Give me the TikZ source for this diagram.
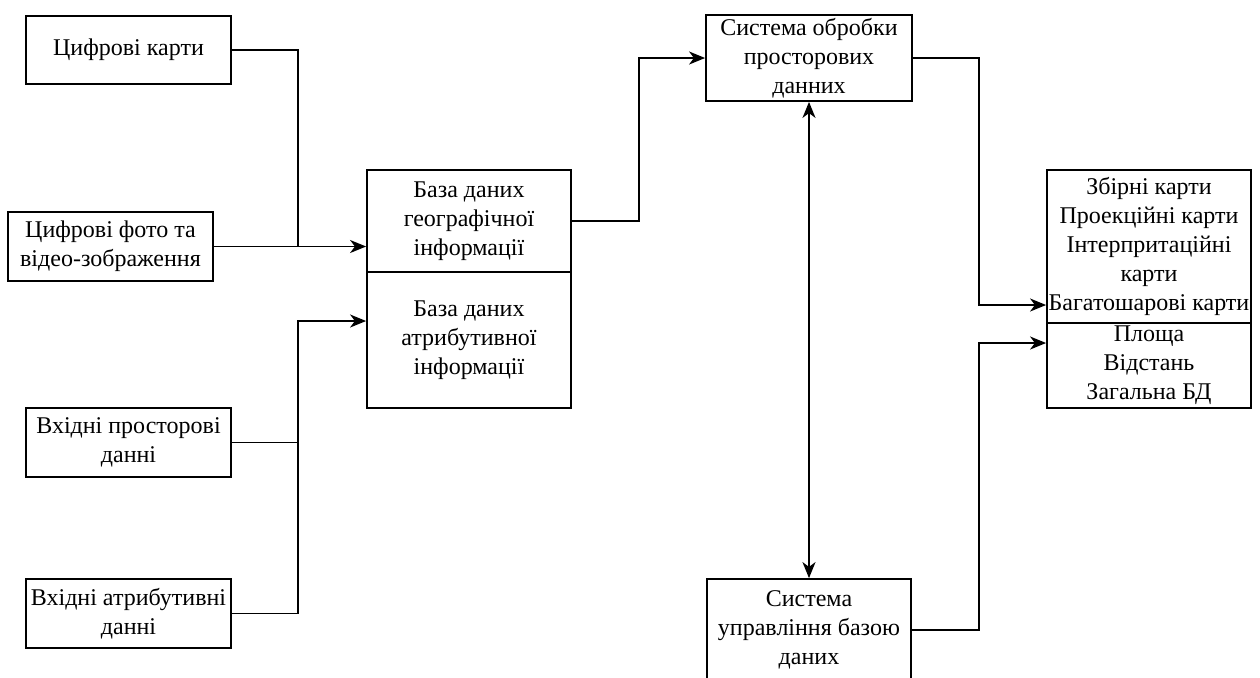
\documentclass[tikz,border=0pt]{standalone}
\usepackage{fontspec}
\setmainfont{Liberation Serif}
\usetikzlibrary{arrows.meta}

\begin{document}
\begin{tikzpicture}[x=0.5pt,y=-0.5pt,
  box/.style={draw, line width=0.9pt, rectangle, inner sep=0pt, align=center,
    font=\fontsize{12pt}{14.5pt}\selectfont},
  link/.style={line width=0.9pt},
  tip/.style={Stealth[length=8pt,width=6.5pt,inset=2.4pt]},
  arr/.style={link, -{Stealth[length=8pt,width=6.5pt,inset=2.4pt]}},
  darr/.style={link, {Stealth[length=8pt,width=6.5pt,inset=2.4pt]}-{Stealth[length=8pt,width=6.5pt,inset=2.4pt]}}]
\useasboundingbox (0,0) rectangle (1260,677);
\clip (0,0) rectangle (1260,677);

% input sources
\node[box, minimum width=102.5pt, minimum height=34pt] (maps) at (128.5,50) {Цифрові карти};
\node[box, minimum width=102.5pt, minimum height=34.5pt] (photo) at (110.5,246.5) {Цифрові фото та\\відео-зображення};
\node[box, minimum width=102.5pt, minimum height=34.5pt] (spat) at (128.5,442.5) {Вхідні просторові\\данні};
\node[box, minimum width=102.5pt, minimum height=34.5pt] (attrin) at (128.5,613.5) {Вхідні атрибутивні\\данні};

% databases
\node[box, minimum width=102pt, minimum height=51pt] (geo) at (469,221) {База даних\\географічної\\інформації};
\node[box, minimum width=102pt, minimum height=68pt] (attr) at (469,340) {База даних\\атрибутивної\\інформації};

% processing systems
\node[box, minimum width=103pt, minimum height=43pt] (proc) at (809,58) {Система обробки\\просторових\\данних};
\node[box, minimum width=102pt, minimum height=51pt] (dbms) at (809,630) {Система\\управління базою\\даних};

% outputs
\node[box, minimum width=102pt, minimum height=76.5pt] (out) at (1149,246.5) {Збірні карти\\Проекційні карти\\Інтерпритаційні\\карти\\Багатошарові карти};
\node[box, minimum width=102pt, minimum height=42.5pt] (calc) at (1149,365.5) {Площа\\Відстань\\Загальна БД};

% junction points
\coordinate (j1) at (298,246);
\coordinate (j2) at (298,321);
\coordinate (j3) at (979,305);
\coordinate (j4) at (979,343);

% connectors
\draw[link] (maps.east) -| (j1);
\draw[arr] (photo.east) -- (photo.east -| geo.west);
\draw[link] (spat.east) -- (spat.east -| j2);
\draw[arr] (attrin.east) -| (j2) -- (j2 -| attr.west);
\draw[arr] (geo.east) -- ++(67,0) |- (proc.west);
\draw[arr] (proc.east) -| (j3) -- (j3 -| out.west);
\draw[arr] (dbms.east) -| (j4) -- (j4 -| calc.west);
\draw[darr] (proc.south) -- (dbms.north);
\end{tikzpicture}
\end{document}
